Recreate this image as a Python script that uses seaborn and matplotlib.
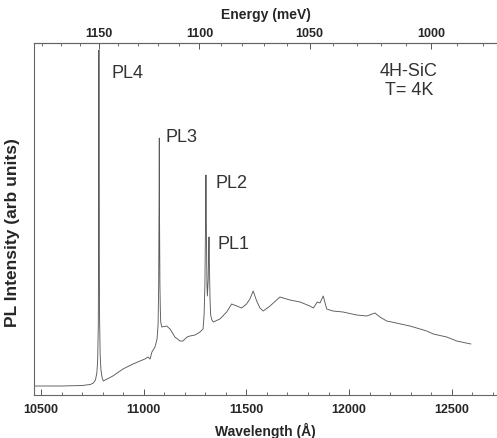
import numpy as np
import pandas as pd
import matplotlib
matplotlib.use("Agg")
import matplotlib.pyplot as plt
from matplotlib.ticker import FixedLocator, MultipleLocator, NullLocator
import seaborn as sns

# PL spectrum of 4H-SiC at 4K (intensity in arb. units)
wavelength = [10470, 10600, 10700, 10740, 10755, 10765, 10772, 10776, 10779, 10781,
              10782, 10783, 10785, 10788, 10792, 10797, 10803, 10850, 10899, 10948,
              10982, 11006, 11021, 11031, 11040, 11055, 11065, 11070, 11073, 11075,
              11076, 11077, 11079, 11081, 11083, 11088, 11112, 11128, 11152, 11177,
              11191, 11211, 11225, 11250, 11274, 11289, 11294, 11298, 11301, 11303,
              11305, 11308, 11310, 11314, 11317, 11318, 11320, 11323, 11326, 11332,
              11339, 11371, 11404, 11428, 11453, 11477, 11501, 11517, 11533, 11550,
              11566, 11582, 11615, 11663, 11712, 11761, 11809, 11826, 11845, 11858,
              11874, 11891, 11921, 11970, 12037, 12086, 12126, 12150, 12183, 12207,
              12296, 12378, 12410, 12475, 12524, 12593]
intensity = [9, 9, 9.5, 10.5, 12, 15, 22, 35, 70, 180,
             345, 200, 80, 40, 25, 18, 14, 19, 26, 31,
             34, 36, 38, 36, 43, 48, 56, 70, 110, 200,
             257, 180, 110, 85, 73, 68, 69, 66, 58, 54,
             54, 58, 59, 60, 63, 66, 80, 110, 170, 220,
             170, 110, 99, 115, 150, 158, 130, 95, 80, 75,
             73, 76, 83, 91, 89, 87, 91, 96, 104, 94,
             87, 84, 89, 98, 95, 93, 89, 87, 93, 92,
             99, 86, 84, 83, 80, 79, 82, 78, 74, 73,
             69, 64, 61, 58, 54, 51]

peak_names = ["PL4", "PL3", "PL2", "PL1"]
peak_pos = [10782, 11076, 11303, 11318]
peak_height = [345, 257, 220, 158]

energy_major = [1000, 1050, 1100, 1150]
energy_minor = list(range(980, 1190, 10))

df = pd.DataFrame({"wavelength": wavelength, "intensity": intensity})

sns.set_style("ticks")
plt.rcParams["font.family"] = ["Liberation Sans", "DejaVu Sans"]

fig = plt.figure(figsize=(4.97, 4.39), dpi=100)
ax = fig.add_axes([34 / 497, 43 / 439, 1 - 34 / 497, 352 / 439])

sns.lineplot(data=df, x="wavelength", y="intensity", ax=ax,
             color="#5a5a5a", linewidth=0.65)

ax.set_xlim(10466, 12720)
ax.set_ylim(0, 352)

# peak labels
offsets = [(13, -22), (6, 2), (10, -8), (8, -7)]
for name, pos, h, (dx, dy) in zip(peak_names, peak_pos, peak_height, offsets):
    ax.annotate(name, (pos, h), xytext=(dx, dy), textcoords="offset pixels",
                fontsize=13, color="#333333", ha="left", va="center")

ax.text(0.81, 0.895, "4H-SiC\nT= 4K", transform=ax.transAxes, fontsize=13,
        color="#333333", ha="center", va="center", linespacing=1.1)

# axes styling
for side in ["left", "bottom", "top"]:
    ax.spines[side].set_color("#666666")
    ax.spines[side].set_linewidth(0.8)
ax.spines["right"].set_visible(False)

ax.xaxis.set_major_locator(MultipleLocator(500))
ax.xaxis.set_minor_locator(MultipleLocator(100))
ax.yaxis.set_major_locator(NullLocator())
ax.tick_params(axis="x", which="major", direction="in", length=4, width=0.7,
               color="#555555", labelsize=9, pad=6)
ax.tick_params(axis="x", which="minor", direction="in", length=2.5, width=0.6,
               color="#555555")
for lab in ax.get_xticklabels():
    lab.set_fontweight("bold")

ax.set_xlabel("Wavelength (\u00c5)", fontsize=10, fontweight="bold", labelpad=5)
ax.set_ylabel("PL Intensity (arb units)", fontsize=12.5, fontweight="bold")
ax.yaxis.set_label_coords(-0.031, 0.465)

# energy axis on top
def to_mev(x):
    x = np.asarray(x, dtype=float)
    with np.errstate(divide="ignore"):
        return 12398420.0 / x

top = ax.secondary_xaxis("top", functions=(to_mev, to_mev))
top.xaxis.set_major_locator(FixedLocator(energy_major))
top.xaxis.set_minor_locator(FixedLocator(energy_minor))
top.tick_params(axis="x", which="major", direction="in", length=4, width=0.7,
                color="#555555", labelsize=9, pad=3)
top.tick_params(axis="x", which="minor", direction="in", length=2.5, width=0.6,
                color="#555555")
top.spines["top"].set_color("#666666")
top.spines["top"].set_linewidth(0.8)
for lab in top.get_xticklabels():
    lab.set_fontweight("bold")
top.set_xlabel("Energy (meV)", fontsize=10, fontweight="bold", labelpad=6)

fig.savefig("out.png", dpi=100)
